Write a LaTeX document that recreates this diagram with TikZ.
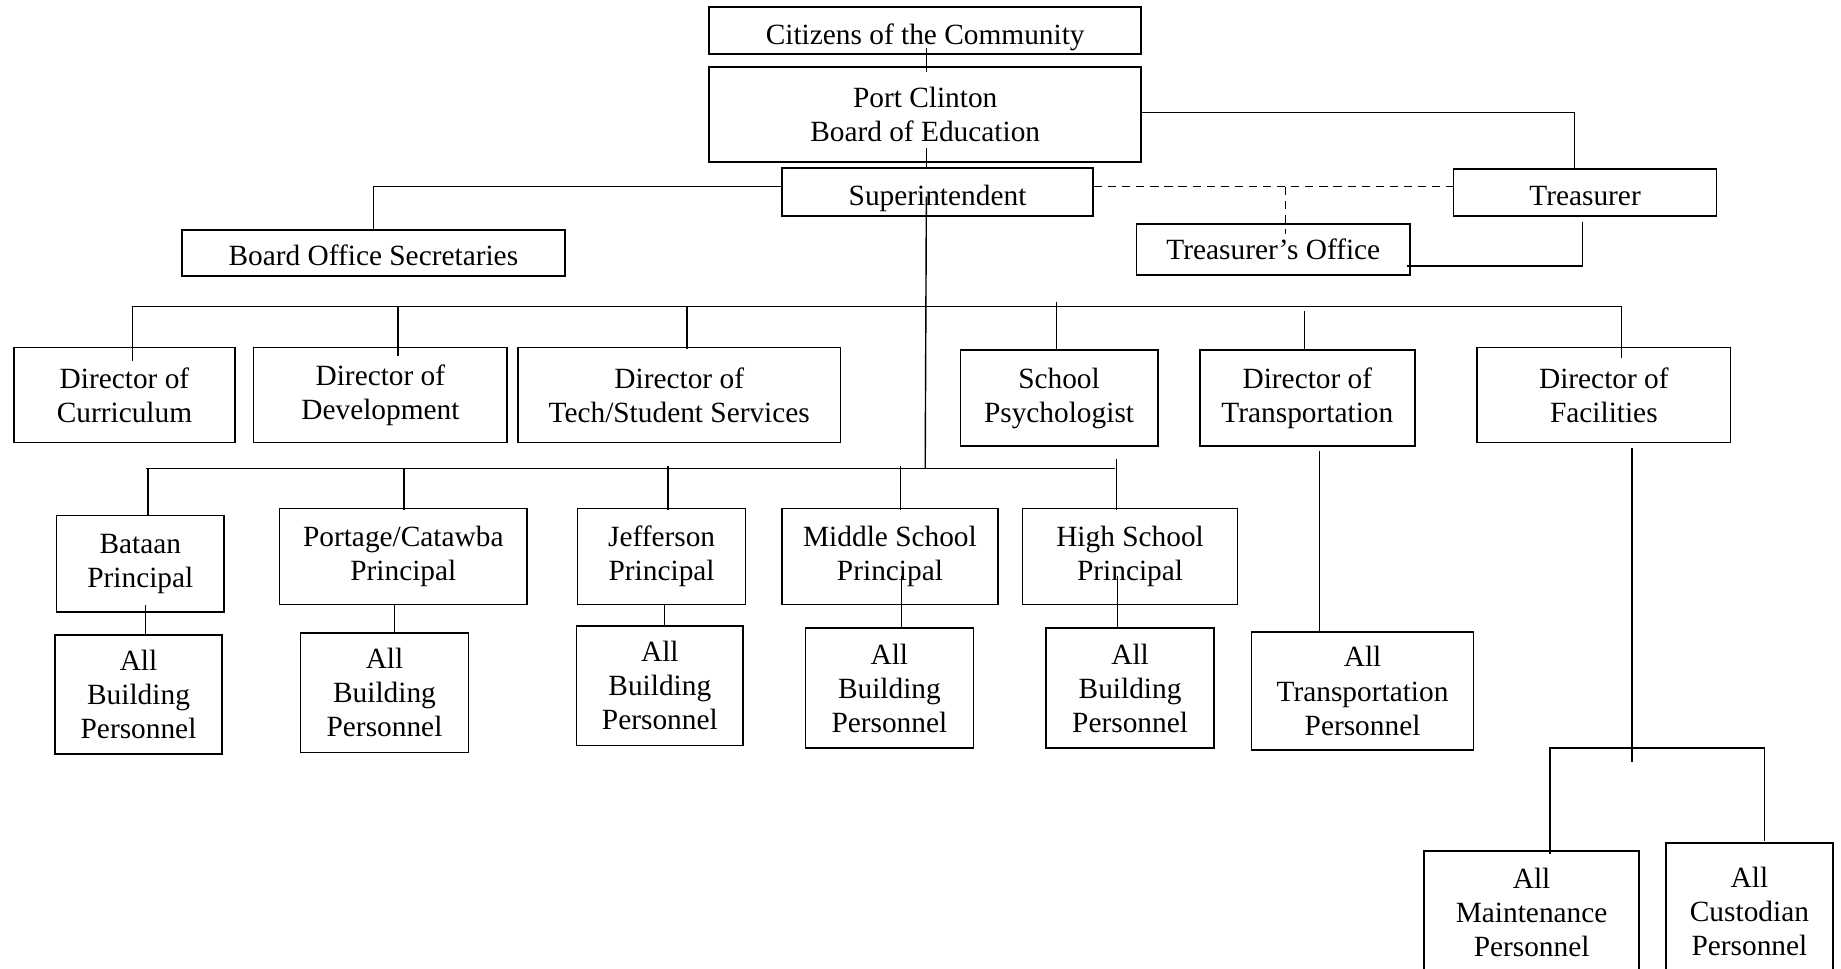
\documentclass[tikz,border=0pt]{standalone}
\usepackage{fontspec}
\setmainfont{Liberation Serif}
\newcommand\lowtxt[2]{\raisebox{-#1}[0pt][0pt]{#2}}
\begin{document}
\begin{tikzpicture}[x=1pt,y=-1pt,
  box/.style={draw,line width=1.4pt,inner sep=0pt,align=center,
    font=\fontsize{25}{29}\selectfont},
  conn/.style={line width=1.2pt},
  dconn/.style={line width=1.2pt,dash pattern=on 7pt off 5pt}]
\useasboundingbox (0,0) rectangle (1568,824.5);
\newcommand\bx[6]{\node[box,minimum width={#4-#2},minimum height={#5-#3}] (#1) at ({(#2+#4)/2},{(#3+#5)/2}) {#6};}
% top
\bx{cit}{604}{6}{972}{46}{\lowtxt{12pt}{Citizens of the Community}}
\bx{board}{604}{57}{972}{138}{Port Clinton\\Board of Education}
\bx{sup}{666}{143}{931}{184}{\lowtxt{11.5pt}{Superintendent}}
\bx{treas}{1238}{144}{1462}{184}{\lowtxt{11pt}{Treasurer}}
\bx{toff}{968}{191}{1201}{234}{Treasurer’s Office}
\bx{bos}{155}{196}{481}{235}{\lowtxt{10.5pt}{Board Office Secretaries}}
% directors
\bx{curr}{12}{296}{200}{377}{Director of\\Curriculum}
\bx{dev}{216}{296}{432}{377}{Director of\\Development}
\bx{tech}{441}{296}{716}{377}{Director of\\Tech/Student Services}
\bx{psy}{818}{298}{986}{380}{School\\Psychologist}
\bx{trans}{1022}{298}{1205}{380}{Director of\\Transportation}
\bx{fac}{1258}{296}{1474}{377}{Director of\\Facilities}
% principals
\bx{bat}{48}{439}{191}{521}{Bataan\\Principal}
\bx{por}{238}{433}{449}{515}{Portage/Catawba\\Principal}
\bx{jef}{492}{433}{635}{515}{Jefferson\\Principal}
\bx{mid}{666}{433}{850}{515}{Middle School\\Principal}
\bx{hig}{871}{433}{1054}{515}{High School\\Principal}
% personnel
\bx{p1}{47}{541}{189}{642}{All\\Building\\Personnel}
\bx{p2}{256}{539}{399}{641}{All\\Building\\Personnel}
\bx{p3}{491}{533}{633}{635}{All\\Building\\Personnel}
\bx{p4}{686}{535}{829}{637}{All\\Building\\Personnel}
\bx{p5}{891}{535}{1034}{637}{All\\Building\\Personnel}
\bx{tp}{1066}{538}{1255}{639}{All\\Transportation\\Personnel}
\bx{mp}{1213}{725}{1396}{830}{All\\Maintenance\\Personnel}
\bx{cp}{1419}{718}{1561}{834}{All\\Custodian\\Personnel}
% bus coordinates
\coordinate (dbusL) at (113,261);
\coordinate (dbusR) at (1381,261);
\coordinate (pbusL) at (124,399);
\coordinate (pbusR) at (950,399);
\coordinate (fbusL) at (1320,637);
\coordinate (fbusR) at (1503,637);
\coordinate (dash) at (1095,159);
% top connectors
\draw[conn] ([xshift=1pt,yshift=6pt]cit.south) -- ([xshift=1pt,yshift=-5pt]board.north);
\draw[conn] ([xshift=1pt,yshift=13pt]board.south) -- ([xshift=-9.5pt,yshift=-2pt]sup.north);
\draw[conn] ([yshift=1.5pt]board.east) -| ([xshift=-9pt]treas.north);
\draw[conn] ([yshift=4.5pt]sup.west) -| ([yshift=0pt]bos.north);
\draw[dconn] ([yshift=4.5pt]sup.east) -- ([yshift=5pt]treas.west);
\draw[dconn] (dash) -- ([yshift=-9pt]dash |- toff.north);
\draw[conn] ([xshift=-2pt,yshift=-4pt]treas.south) |- ([xshift=-3pt,yshift=-14pt]toff.east);
% superintendent trunk
\draw[conn] ([xshift=-9.5pt,yshift=-4pt]sup.center) -- (788,399);
% director bus
\draw[conn] (dbusL) -- (dbusR);
\draw[conn] (dbusL) -- ([xshift=7pt,yshift=-12pt]curr.north);
\draw[conn] (dbusL -| 339,0) -- ([xshift=15pt,yshift=-8pt]dev.north);
\draw[conn] (dbusL -| 585,0) -- ([xshift=6.5pt,yshift=-2pt]tech.north);
\draw[conn] ([yshift=4pt]dbusL -| 900,0) -- ([xshift=-2pt]psy.north);
\draw[conn] ([yshift=-4pt]dbusL -| 1111,0) -- ([xshift=-2.5pt,yshift=-2pt]trans.north);
\draw[conn] (dbusR) -- ([xshift=15pt,yshift=-10pt]fac.north);
% principal bus
\draw[conn] (pbusL) -- (pbusR);
\draw[conn] ([xshift=2pt]pbusL) -- ([xshift=6.5pt]bat.north);
\draw[conn] (pbusL -| 344,0) -- ([xshift=0.5pt,yshift=-2pt]por.north);
\draw[conn] ([yshift=2pt]pbusL -| 569,0) -- ([xshift=5.5pt,yshift=-2pt]jef.north);
\draw[conn] ([yshift=2pt]pbusL -| 767,0) -- ([xshift=9pt,yshift=-2pt]mid.north);
\draw[conn] ([yshift=8pt,xshift=1pt]pbusR) -- ([xshift=-11.5pt,yshift=-2pt]hig.north);
% principal to personnel
\draw[conn] ([xshift=4.5pt,yshift=6pt]bat.south) -- ([xshift=6pt]p1.north);
\draw[conn] ([xshift=-7.5pt]por.south) -- ([xshift=8.5pt,yshift=-1pt]p2.north);
\draw[conn] ([xshift=2.5pt]jef.south) -- ([xshift=4pt,yshift=-1pt]p3.north);
\draw[conn] ([xshift=10pt,yshift=25pt]mid.south) -- ([xshift=10.5pt,yshift=-1pt]p4.north);
\draw[conn] ([xshift=-10.5pt,yshift=25pt]hig.south) -- ([xshift=-10.5pt,yshift=-1pt]p5.north);
% transportation
\draw[conn] ([xshift=10.5pt,yshift=-3pt]trans.south) -- ([xshift=-36.5pt]tp.north);
% facilities
\draw[conn] ([xshift=24pt,yshift=-4pt]fac.south) -- ([xshift=24pt,yshift=-4pt]fac.south |- fbusL) -- ++(0,8);
\draw[conn] (fbusR) -- (fbusL) -- ([xshift=15.5pt,yshift=-3pt]mp.north);
\draw[conn] (fbusR) -- ([xshift=13pt,yshift=1pt]cp.north);
\end{tikzpicture}
\end{document}
